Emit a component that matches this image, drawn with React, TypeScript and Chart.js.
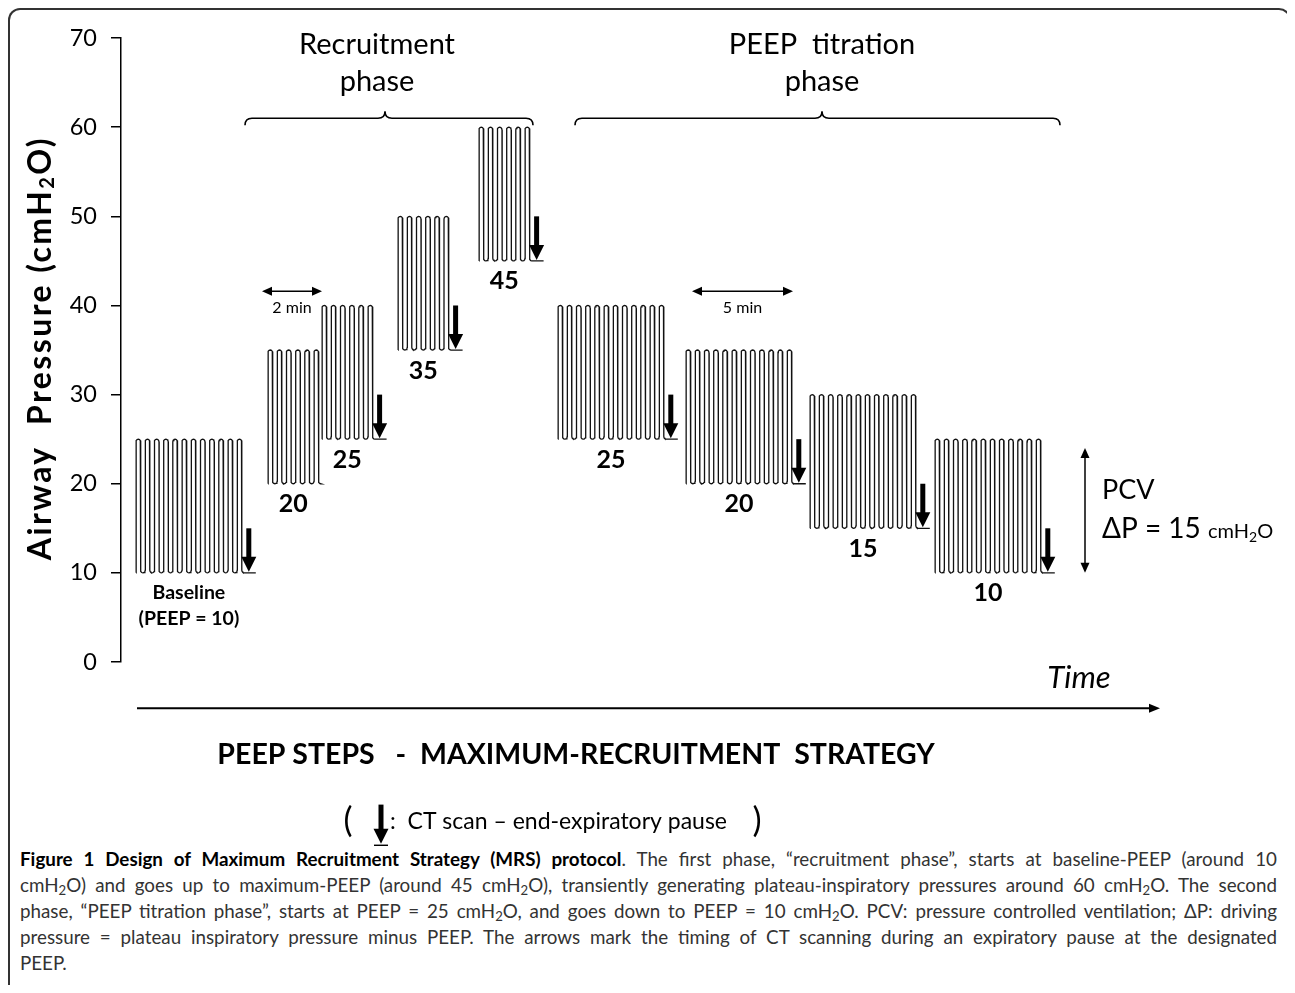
import React, { useEffect, useRef } from 'react';
import { Chart, registerables } from 'chart.js';

Chart.register(...registerables);

// ---- Data ----
const yTickValues = [0, 10, 20, 30, 40, 50, 60, 70];
const stepLabels = ['Baseline', '20', '25', '35', '45', '25', '20', '15', '10'];
const stepPeep = [10, 20, 25, 35, 45, 25, 20, 15, 10];
const stepPlateau = [25, 35, 40, 50, 60, 40, 35, 30, 25];
const stepBreaths = [12, 6, 6, 6, 6, 12, 12, 12, 12];
const stepStart = [1.5, 14.7, 20.1, 27.7, 35.8, 43.7, 56.5, 68.9, 81.4];
const stepCtScan = [true, false, true, true, true, true, true, true, true];
const breathPeriod = 0.92;
const ctPause = 1.4;
const ctArrowRise = 5;

const phaseTitles = [['Recruitment', 'phase'], ['PEEP  titration', 'phase']];
const phaseTitleX = [25.6, 70.1];
const phaseBraceStart = [12.4, 45.4];
const phaseBraceEnd = [41.2, 93.9];
const phaseBraceTip = [26.4, 70.1];

const durationLabels = ['2 min', '5 min'];
const durationStart = [14.1, 57.1];
const durationEnd = [20.1, 67.2];

const pcvRange = [10, 24];

const captionLines = [
  'The first phase, “recruitment phase”, starts at baseline-PEEP (around 10',
  'cmH2O) and goes up to maximum-PEEP (around 45 cmH2O), transiently generating plateau-inspiratory pressures around 60 cmH2O. The second',
  'phase, “PEEP titration phase”, starts at PEEP = 25 cmH2O, and goes down to PEEP = 10 cmH2O. PCV: pressure controlled ventilation; ΔP: driving',
  'pressure = plateau inspiratory pressure minus PEEP. The arrows mark the timing of CT scanning during an expiratory pause at the designated',
  'PEEP.',
];

const FONT = 'Lato, "Open Sans", sans-serif';

function stepEnd(i: number) {
  return stepStart[i] + (stepBreaths[i] - 0.5) * breathPeriod + (stepCtScan[i] ? ctPause : 0.1);
}
function lastFall(i: number) {
  return stepStart[i] + (stepBreaths[i] - 0.5) * breathPeriod;
}

function buildWave(i: number) {
  const L = stepPeep[i];
  const H = stepPlateau[i];
  const n = stepBreaths[i];
  const x0 = stepStart[i];
  const p = breathPeriod;
  const half = p / 2;
  const d = 0.3;
  const arcN = 6;
  const pts: { x: number; y: number }[] = [{ x: x0, y: L }];
  for (let k = 0; k < n; k++) {
    const xr = x0 + k * p;
    for (let j = 0; j <= arcN; j++) {
      const t = (Math.PI * j) / arcN;
      pts.push({ x: xr + (half * (1 - Math.cos(t))) / 2, y: H - d + d * Math.sin(t) });
    }
    const xf = xr + half;
    if (k < n - 1) {
      for (let j = 0; j <= arcN; j++) {
        const t = (Math.PI * j) / arcN;
        pts.push({ x: xf + (half * (1 - Math.cos(t))) / 2, y: L + d - d * Math.sin(t) });
      }
    } else {
      for (let j = 0; j <= arcN / 2; j++) {
        const t = (Math.PI * j) / arcN;
        pts.push({ x: xf + (half * (1 - Math.cos(t))) / 2, y: L + d - d * Math.sin(t) });
      }
      pts.push({ x: stepEnd(i), y: L });
    }
  }
  return pts;
}

type Part = { t: string; font: string; dy?: number };
function drawRich(ctx: CanvasRenderingContext2D, parts: Part[], x: number, y: number, align: 'left' | 'center') {
  ctx.textBaseline = 'middle';
  ctx.textAlign = 'left';
  let total = 0;
  for (const p of parts) {
    ctx.font = p.font;
    total += ctx.measureText(p.t).width;
  }
  let cx = align === 'center' ? x - total / 2 : x;
  for (const p of parts) {
    ctx.font = p.font;
    ctx.fillText(p.t, cx, y + (p.dy || 0));
    cx += ctx.measureText(p.t).width;
  }
}

function arrowHead(ctx: CanvasRenderingContext2D, x: number, y: number, dx: number, dy: number, len: number, hw: number) {
  const bx = x - dx * len;
  const by = y - dy * len;
  ctx.beginPath();
  ctx.moveTo(x, y);
  ctx.lineTo(bx - dy * hw, by + dx * hw);
  ctx.lineTo(bx + dy * hw, by - dx * hw);
  ctx.closePath();
  ctx.fill();
}

function ctArrow(ctx: CanvasRenderingContext2D, x: number, yTop: number, yTip: number) {
  const headLen = 15;
  const headHw = 7.5;
  ctx.fillRect(x - 2.5, yTop, 5, yTip - headLen - yTop + 1);
  arrowHead(ctx, x, yTip, 0, 1, headLen, headHw);
}

const annotationPlugin = {
  id: 'mrsAnnotations',
  afterDraw(chart: any) {
    const ctx: CanvasRenderingContext2D = chart.ctx;
    const X = (v: number) => chart.scales.x.getPixelForValue(v);
    const Y = (v: number) => chart.scales.y.getPixelForValue(v);
    const area = chart.chartArea;
    ctx.save();
    ctx.fillStyle = '#000';
    ctx.strokeStyle = '#000';

    // Y axis title
    ctx.save();
    ctx.translate(31, (area.top + area.bottom) / 2 - 2);
    ctx.rotate(-Math.PI / 2);
    (ctx as any).letterSpacing = '2.4px';
    drawRich(
      ctx,
      [
        { t: 'Airway  Pressure (cmH', font: `bold 32px ${FONT}` },
        { t: '2', font: `bold 20px ${FONT}`, dy: 7 },
        { t: 'O)', font: `bold 32px ${FONT}` },
      ],
      0,
      0,
      'center'
    );
    (ctx as any).letterSpacing = '0px';
    ctx.restore();

    // CT scan arrows
    for (let i = 0; i < stepPeep.length; i++) {
      if (!stepCtScan[i]) continue;
      const ax = X((lastFall(i) + stepEnd(i)) / 2);
      ctArrow(ctx, ax, Y(stepPeep[i] + ctArrowRise), Y(stepPeep[i]) - 1);
    }

    // Step labels
    ctx.textAlign = 'center';
    ctx.textBaseline = 'middle';
    for (let i = 0; i < stepPeep.length; i++) {
      const cx = X(stepStart[i] + ((stepBreaths[i] - 0.5) * breathPeriod) / 2);
      if (i === 0) {
        ctx.font = `bold 19.5px ${FONT}`;
        ctx.fillText(stepLabels[i], cx, Y(stepPeep[i] - 2.2));
        ctx.fillText('(PEEP = 10)', cx, Y(stepPeep[i] - 5.1));
      } else {
        ctx.font = `bold 25px ${FONT}`;
        ctx.fillText(stepLabels[i], cx, Y(stepPeep[i] - 2.3));
      }
    }

    // Phase titles and braces
    ctx.font = `29px ${FONT}`;
    for (let i = 0; i < phaseTitles.length; i++) {
      ctx.fillText(phaseTitles[i][0], X(phaseTitleX[i]), Y(69.3));
      ctx.fillText(phaseTitles[i][1], X(phaseTitleX[i]), Y(65.1));
      const x1 = X(phaseBraceStart[i]);
      const x2 = X(phaseBraceEnd[i]);
      const xm = X(phaseBraceTip[i]);
      const y = Y(61);
      const r = 7;
      ctx.lineWidth = 1.6;
      ctx.beginPath();
      ctx.moveTo(x1, y + r);
      ctx.quadraticCurveTo(x1, y, x1 + r, y);
      ctx.lineTo(xm - r, y);
      ctx.quadraticCurveTo(xm, y, xm, y - r);
      ctx.quadraticCurveTo(xm, y, xm + r, y);
      ctx.lineTo(x2 - r, y);
      ctx.quadraticCurveTo(x2, y, x2, y + r);
      ctx.stroke();
    }

    // Duration arrows
    for (let i = 0; i < durationLabels.length; i++) {
      const x1 = X(durationStart[i]);
      const x2 = X(durationEnd[i]);
      const y = Y(41.6);
      ctx.lineWidth = 1.5;
      ctx.beginPath();
      ctx.moveTo(x1 + 6, y);
      ctx.lineTo(x2 - 6, y);
      ctx.stroke();
      arrowHead(ctx, x1, y, -1, 0, 10, 4.5);
      arrowHead(ctx, x2, y, 1, 0, 10, 4.5);
      ctx.font = `16px ${FONT}`;
      ctx.textAlign = 'center';
      ctx.fillText(durationLabels[i], (x1 + x2) / 2, Y(39.7));
    }

    // PCV double arrow
    {
      const x = X(96.4);
      const y1 = Y(pcvRange[1]);
      const y2 = Y(pcvRange[0]);
      ctx.lineWidth = 1.5;
      ctx.beginPath();
      ctx.moveTo(x, y1 + 6);
      ctx.lineTo(x, y2 - 6);
      ctx.stroke();
      arrowHead(ctx, x, y1, 0, -1, 10, 4.5);
      arrowHead(ctx, x, y2, 0, 1, 10, 4.5);
      ctx.textAlign = 'left';
      ctx.font = `27px ${FONT}`;
      ctx.fillText('PCV', X(98.1), Y(19.3));
      drawRich(
        ctx,
        [
          { t: 'ΔP = 15 ', font: `28px ${FONT}` },
          { t: 'cmH', font: `20px ${FONT}`, dy: 2 },
          { t: '2', font: `14px ${FONT}`, dy: 8 },
          { t: 'O', font: `20px ${FONT}`, dy: 2 },
        ],
        X(98.1),
        Y(14.9),
        'left'
      );
    }

    // Time axis arrow and label
    {
      const y = Y(-5.2);
      const x1 = X(1.6);
      const x2 = X(103.9);
      ctx.lineWidth = 2;
      ctx.beginPath();
      ctx.moveTo(x1, y);
      ctx.lineTo(x2 - 6, y);
      ctx.stroke();
      arrowHead(ctx, x2, y, 1, 0, 11, 4.5);
      ctx.textAlign = 'center';
      ctx.font = `italic 31px ${FONT}`;
      ctx.fillText('Time', X(95.8), Y(-1.8));
    }

    // Strategy title
    ctx.textAlign = 'center';
    ctx.font = `bold 28.5px ${FONT}`;
    ctx.fillText('PEEP STEPS   -  MAXIMUM-RECRUITMENT  STRATEGY', X(45.5), Y(-10.4));

    // Legend
    {
      const yc = Y(-17.8);
      ctx.font = `34px ${FONT}`;
      ctx.textAlign = 'center';
      ctx.fillText('(', X(22.7), yc);
      ctx.fillText(')', X(63.6), yc);
      const ax = X(26.0);
      ctArrow(ctx, ax, Y(-16.0), Y(-20.4));
      ctx.lineWidth = 1.5;
      ctx.beginPath();
      ctx.moveTo(ax - 7, Y(-20.4) + 1.5);
      ctx.lineTo(ax + 7, Y(-20.4) + 1.5);
      ctx.stroke();
      ctx.textAlign = 'left';
      ctx.font = `23px ${FONT}`;
      ctx.fillText(':  CT scan – end-expiratory pause', X(26.9), yc + 1);
    }

    ctx.restore();
  },
};

function Sub2Text({ text }: { text: string }) {
  const pieces = text.split('cmH2O');
  const out: React.ReactNode[] = [];
  pieces.forEach((p, i) => {
    out.push(<span key={'p' + i}>{p}</span>);
    if (i < pieces.length - 1) {
      out.push(
        <span key={'c' + i}>
          cmH<sub style={{ fontSize: '0.7em', lineHeight: 0, verticalAlign: '-0.25em' }}>2</sub>O
        </span>
      );
    }
  });
  return <>{out}</>;
}

export default function App() {
  const canvasRef = useRef<HTMLCanvasElement | null>(null);

  useEffect(() => {
    const canvas = canvasRef.current;
    if (!canvas) return;
    const datasets = stepPeep.map((_, i) => ({
      label: stepLabels[i],
      data: buildWave(i),
      borderColor: '#111',
      borderWidth: 1.3,
      pointRadius: 0,
      tension: 0,
      fill: false,
    }));
    const chart = new Chart(canvas, {
      type: 'line',
      data: { datasets },
      options: {
        animation: false,
        responsive: false,
        devicePixelRatio: 1,
        events: [],
        layout: { padding: { top: 22, right: 118, bottom: 184, left: 0 } },
        plugins: { legend: { display: false }, tooltip: { enabled: false }, title: { display: false } },
        scales: {
          x: { type: 'linear', min: 0, max: 105, display: false },
          y: {
            type: 'linear',
            min: 0,
            max: 70,
            afterFit: (scale: any) => {
              scale.width = 111;
            },
            afterBuildTicks: (scale: any) => {
              scale.ticks = yTickValues.map((v) => ({ value: v }));
            },
            ticks: {
              color: '#000',
              font: { family: FONT, size: 23.5 },
              padding: 14,
            },
            grid: {
              drawOnChartArea: false,
              drawTicks: true,
              tickLength: 10,
              color: '#000',
              lineWidth: 1.5,
            },
            border: { display: true, color: '#000', width: 1.5 },
          },
        },
      },
      plugins: [annotationPlugin],
    });
    return () => chart.destroy();
  }, []);

  return (
    <div style={{ height: 977, overflow: 'hidden' }}>
      <div
        style={{
          width: 1283,
          height: 1000,
          boxSizing: 'border-box',
          border: '2px solid #333',
          borderBottom: 'none',
          borderRadius: '12px 12px 0 0',
        }}
      >
        <canvas ref={canvasRef} width={1279} height={836} style={{ display: 'block', width: 1279, height: 836 }} />
        <div
          style={{
            padding: '0 12px 0 10px',
            fontFamily: FONT,
            fontSize: 18.8,
            lineHeight: '26px',
            color: '#333',
          }}
        >
          {captionLines.map((line, i) => (
            <div
              key={i}
              style={{
                textAlign: 'justify',
                textAlignLast: i === captionLines.length - 1 ? 'left' : 'justify',
              }}
            >
              {i === 0 && (
                <b style={{ color: '#000' }}>Figure 1 Design of Maximum Recruitment Strategy (MRS) protocol</b>
              )}
              {i === 0 ? '. ' : ''}
              <Sub2Text text={line} />
            </div>
          ))}
        </div>
      </div>
    </div>
  );
}
